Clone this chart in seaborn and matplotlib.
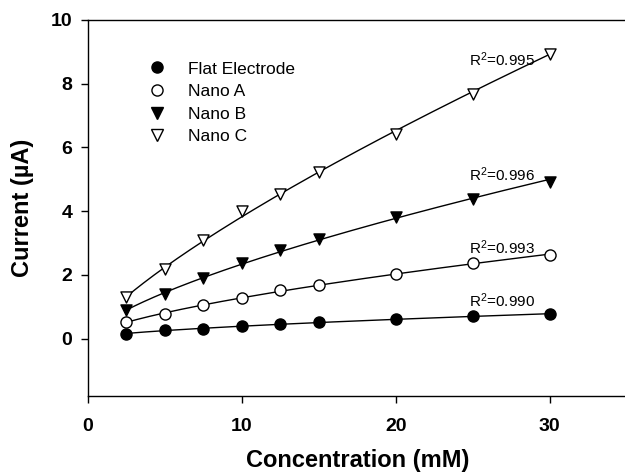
import numpy as np
import pandas as pd
import matplotlib
matplotlib.use("Agg")
import matplotlib.pyplot as plt
import seaborn as sns

# ---- data ----
concentration = [2.5, 5, 7.5, 10, 12.5, 15, 20, 25, 30]
flat_electrode = [0.16, 0.26, 0.31, 0.40, 0.45, 0.52, 0.61, 0.70, 0.76]
nano_a = [0.52, 0.78, 1.05, 1.29, 1.52, 1.67, 2.04, 2.36, 2.62]
nano_b = [0.91, 1.39, 1.90, 2.36, 2.77, 3.14, 3.82, 4.38, 4.92]
nano_c = [1.31, 2.17, 3.09, 4.01, 4.53, 5.23, 6.42, 7.68, 8.93]
series_names = ["Flat Electrode", "Nano A", "Nano B", "Nano C"]
r2_values = ["0.990", "0.993", "0.996", "0.995"]
r2_y = [1.19, 2.85, 5.13, 8.76]
x_ticks = [0, 10, 20, 30]
y_ticks = [0, 2, 4, 6, 8, 10]

sns.set_theme(style="ticks")
plt.rcParams["font.family"] = ["Liberation Sans", "DejaVu Sans"]
plt.rcParams["axes.labelcolor"] = "black"
plt.rcParams["text.color"] = "black"
plt.rcParams["mathtext.fontset"] = "custom"
plt.rcParams["mathtext.rm"] = "Liberation Sans"
plt.rcParams["mathtext.it"] = "Liberation Sans:italic"
plt.rcParams["mathtext.bf"] = "Liberation Sans:bold"

fig = plt.figure(figsize=(6.25, 4.75), dpi=100)
ax = fig.add_axes([87.7 / 625, 79 / 475, 539 / 625, 376 / 475])

values = [flat_electrode, nano_a, nano_b, nano_c]
markers = ["o", "o", "v", "v"]
faces = ["black", "white", "black", "white"]

x = np.array(concentration)
xf = np.linspace(x.min(), x.max(), 200)
handles = []
for name, vals, m, fc in zip(series_names, values, markers, faces):
    y = np.array(vals)
    b, a = np.polyfit(np.log(x), np.log(y), 1)
    fit_df = pd.DataFrame({"x": xf, "y": np.exp(a) * xf ** b})
    sns.lineplot(data=fit_df, x="x", y="y", color="black", linewidth=1.0, ax=ax,
                 legend=False, zorder=2)
    df = pd.DataFrame({"x": x, "y": y})
    sns.scatterplot(data=df, x="x", y="y", marker=m, s=64, facecolor=fc,
                    edgecolor="black", linewidth=1.0, ax=ax, zorder=3, legend=False)
    handles.append(plt.Line2D([], [], linestyle="none", marker=m, markersize=8,
                              markerfacecolor=fc, markeredgecolor="black",
                              markeredgewidth=1.0, label=name))

for val, yy in zip(r2_values, r2_y):
    ax.text(29.05, yy, r"R$^{\mathrm{2}}$=" + val, ha="right", va="center",
            fontsize=11, color="black")

ax.set_xlim(0, 35)
ax.set_ylim(-1.8, 10)
ax.set_xticks(x_ticks)
ax.set_yticks(y_ticks)
ax.tick_params(axis="both", direction="out", length=5, width=1.0, labelsize=14,
               colors="black", pad=6)
ax.tick_params(axis="x", pad=11)
for lbl in ax.get_xticklabels() + ax.get_yticklabels():
    lbl.set_fontweight("bold")
ax.set_xlabel("Concentration (mM)", fontsize=17, fontweight="bold", labelpad=10,
              color="black")
ax.set_ylabel("Current (\u00b5A)", fontsize=17, fontweight="bold", labelpad=12,
              color="black")

for side in ["left", "bottom", "top"]:
    ax.spines[side].set_visible(True)
    ax.spines[side].set_linewidth(1.0)
    ax.spines[side].set_color("black")
ax.spines["right"].set_visible(False)

leg = ax.legend(handles=handles, loc="upper left",
                bbox_to_anchor=(139.6 / 625, 1 - 61.4 / 475),
                bbox_transform=fig.transFigure, frameon=False, fontsize=12.5,
                handlelength=2.0, handletextpad=0.78, labelspacing=0.43,
                borderpad=0, borderaxespad=0)

fig.savefig("out.png", dpi=100)
